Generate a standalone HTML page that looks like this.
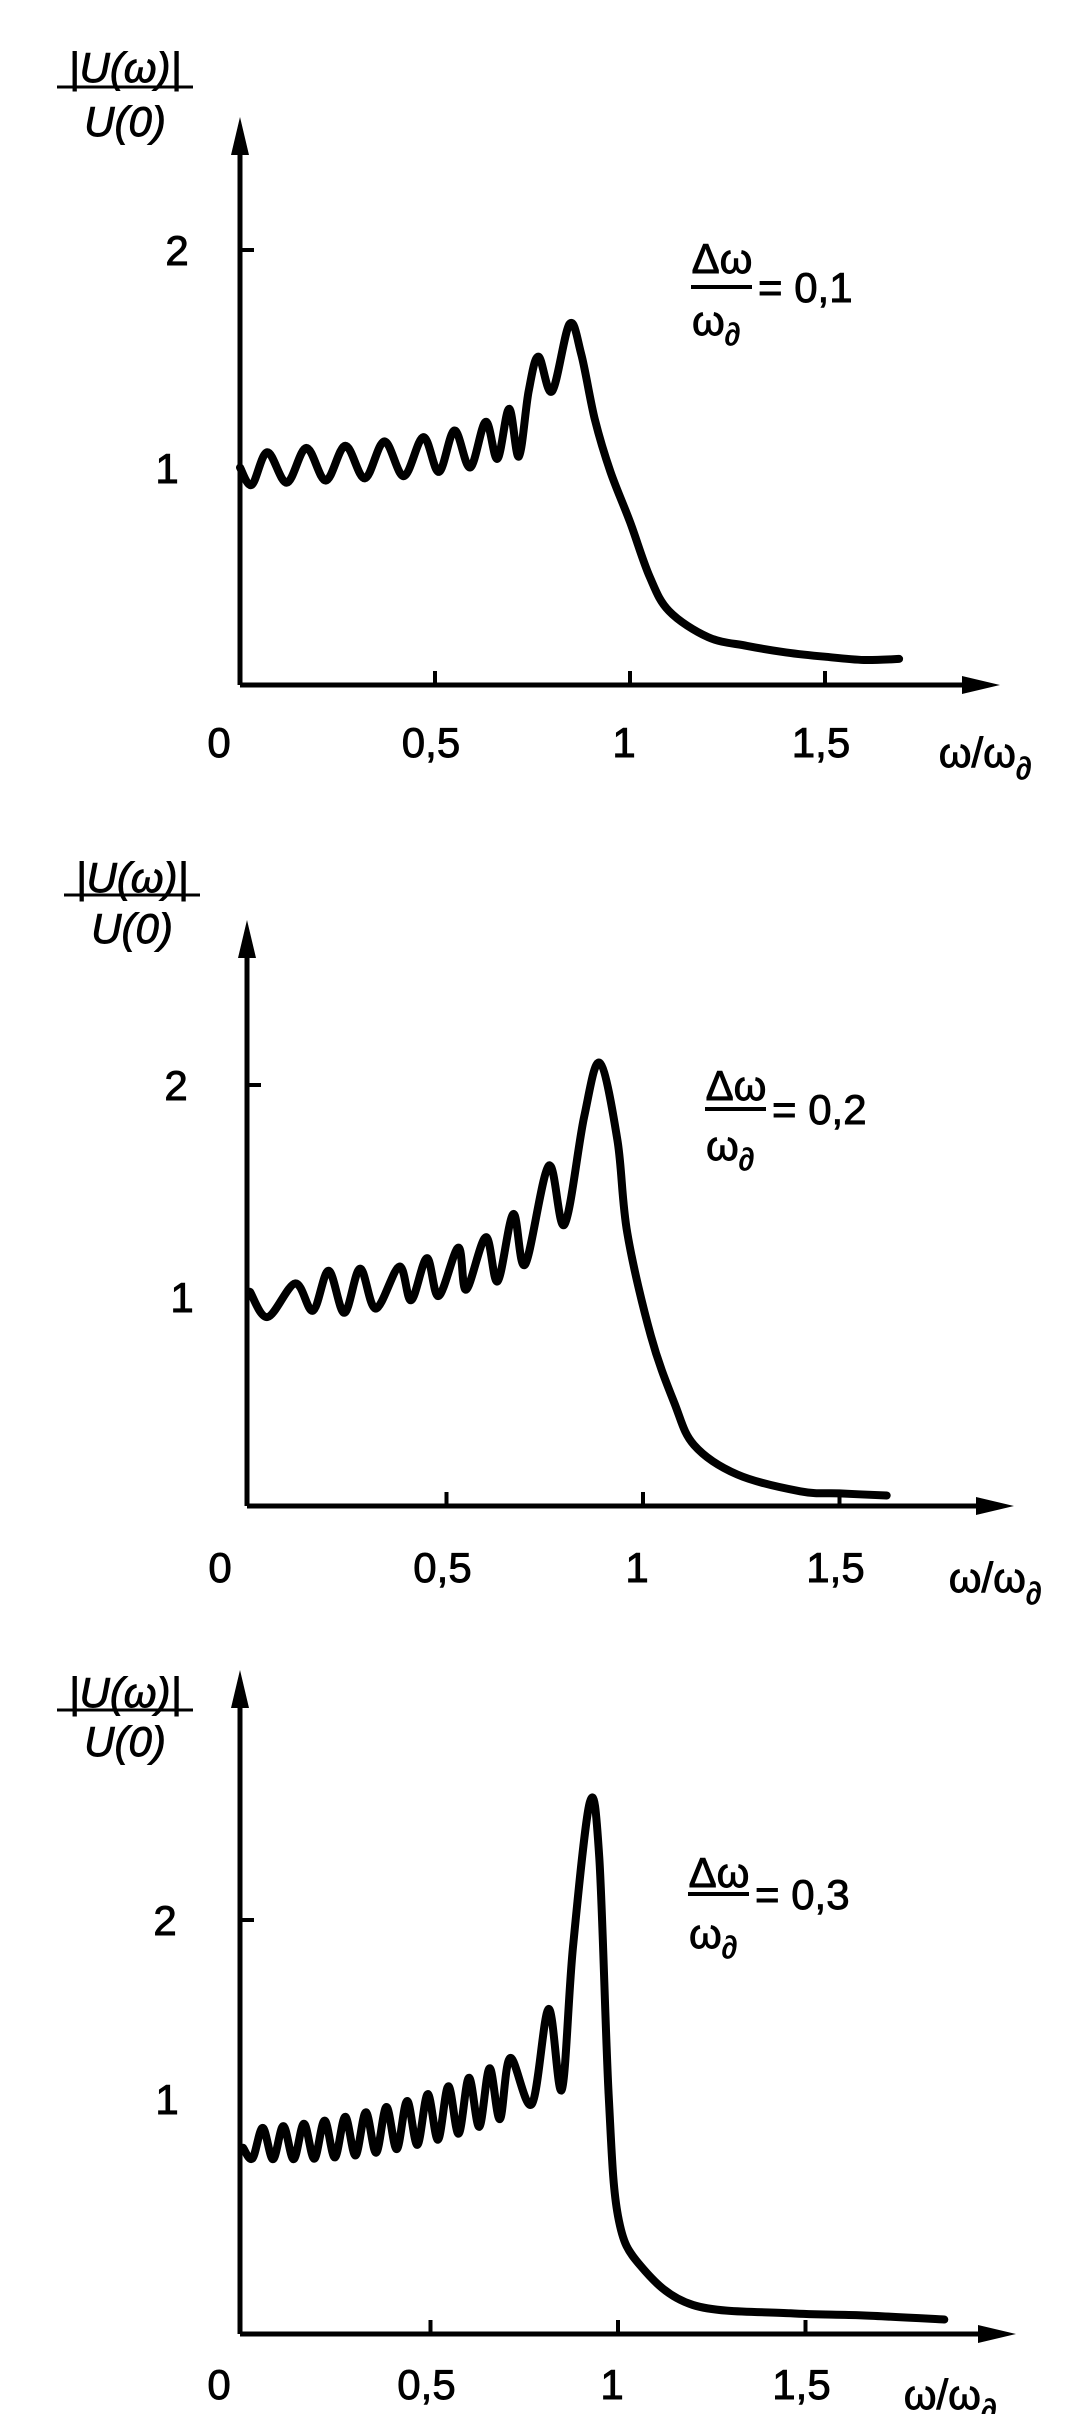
<!DOCTYPE html>
<html><head><meta charset="utf-8">
<style>
html,body{margin:0;padding:0;background:#fff;}
svg{display:block;}
text{font-family:"Liberation Sans",sans-serif;fill:#000;stroke:#000;stroke-width:0.9;}
</style></head>
<body>
<svg id="s" width="1077" height="2414" viewBox="0 0 1077 2414" xmlns="http://www.w3.org/2000/svg">
<g id="g"></g>
</svg>
<script>
var NS="http://www.w3.org/2000/svg",G=document.getElementById('g');
function el(t,a,txt){var e=document.createElementNS(NS,t);for(var k in a)e.setAttribute(k,a[k]);if(txt!==undefined)e.textContent=txt;G.appendChild(e);return e;}
function cr(pts){var d="M"+pts[0][0].toFixed(1)+" "+pts[0][1].toFixed(1);
 for(var i=0;i<pts.length-1;i++){var p0=pts[i-1]||pts[i],p1=pts[i],p2=pts[i+1],p3=pts[i+2]||p2;
  var c1=[p1[0]+(p2[0]-p0[0])/6,p1[1]+(p2[1]-p0[1])/6],c2=[p2[0]-(p3[0]-p1[0])/6,p2[1]-(p3[1]-p1[1])/6];
  d+=" C"+c1[0].toFixed(1)+" "+c1[1].toFixed(1)+" "+c2[0].toFixed(1)+" "+c2[1].toFixed(1)+" "+p2[0].toFixed(1)+" "+p2[1].toFixed(1);}
 return d;}
function panel(o){
 var X=function(x){return o.x0+x*o.ux;},Y=function(v){return o.y0-v*o.uy;};
 el('line',{x1:o.ax,y1:o.y0,x2:o.ax,y2:o.top+20,stroke:'#000','stroke-width':5});
 el('polygon',{points:(o.ax-9)+","+(o.top+38)+" "+o.ax+","+o.top+" "+(o.ax+9)+","+(o.top+38),fill:'#000'});
 el('line',{x1:o.ax,y1:o.y0,x2:o.tip-20,y2:o.y0,stroke:'#000','stroke-width':5});
 el('polygon',{points:(o.tip-38)+","+(o.y0-9)+" "+o.tip+","+o.y0+" "+(o.tip-38)+","+(o.y0+9),fill:'#000'});
 [0.5,1,1.5].forEach(function(t){el('line',{x1:X(t),y1:o.y0,x2:X(t),y2:o.y0-14,stroke:'#000','stroke-width':4});});
 el('line',{x1:o.ax,y1:o.y2,x2:o.ax+14,y2:o.y2,stroke:'#000','stroke-width':4});
 var fs=42;
 el('text',{x:o.lx0,y:o.ly+15,'font-size':fs,'text-anchor':'middle'},"0");
 el('text',{x:X(0.5)-4,y:o.ly+15,'font-size':fs,'text-anchor':'middle'},"0,5");
 el('text',{x:X(1)-6,y:o.ly+15,'font-size':fs,'text-anchor':'middle'},"1");
 el('text',{x:X(1.5)-4,y:o.ly+15,'font-size':fs,'text-anchor':'middle'},"1,5");
 var t=el('text',{x:o.wx,y:o.ly+25,'font-size':fs,'text-anchor':'middle'});
 t.innerHTML='ω/ω<tspan font-size="31" font-style="italic" dy="12">∂</tspan>';
 el('text',{x:o.n2x,y:o.y2+15,'font-size':fs,'text-anchor':'middle'},"2");
 el('text',{x:o.n1x,y:o.n1y+15,'font-size':fs,'text-anchor':'middle'},"1");
 el('text',{x:o.ylx,y:o.yl1+15,'font-size':fs,'text-anchor':'middle','font-style':'italic'},"|U(ω)|");
 el('line',{x1:o.ylx-68,y1:o.yll,x2:o.ylx+68,y2:o.yll,stroke:'#000','stroke-width':3});
 el('text',{x:o.ylx,y:o.yl2+15,'font-size':fs,'text-anchor':'middle','font-style':'italic'},"U(0)");
 el('text',{x:o.ax2,y:o.a1+15,'font-size':fs,'text-anchor':'middle'},"Δω");
 el('line',{x1:o.ax2-31,y1:o.al,x2:o.ax2+30,y2:o.al,stroke:'#000','stroke-width':4});
 var t2=el('text',{x:o.ax2-6,y:o.a2+15,'font-size':fs,'text-anchor':'middle'});
 t2.innerHTML='ω<tspan font-size="31" font-style="italic" dy="10">∂</tspan>';
 el('text',{x:o.ax2+36,y:o.al+15,'font-size':fs},"= "+o.val);
 var pts=o.pts.map(function(p){return [X(p[0]),Y(p[1])];});
 el('path',{d:cr(pts),fill:'none',stroke:'#000','stroke-width':8,'stroke-linejoin':'round','stroke-linecap':'round'});
}
panel({x0:240,ux:390,y0:685,uy:217.5,ax:240,top:117,tip:1000,y2:250,
 lx0:219,ly:742,wx:985,n2x:177,n1x:167,n1y:468,ylx:125,yl1:67,yll:87,yl2:121,
 ax2:722,a1:258,al:287,a2:320,val:"0,1",
 pts:[[0,1.0],[0.03,0.92],[0.07,1.07],[0.12,0.93],[0.17,1.09],[0.22,0.94],[0.27,1.10],[0.32,0.95],[0.37,1.12],[0.42,0.96],[0.47,1.14],[0.51,0.98],[0.55,1.17],[0.59,1.0],[0.63,1.21],[0.66,1.04],[0.69,1.27],[0.715,1.05],[0.74,1.35],[0.765,1.51],[0.80,1.35],[0.845,1.66],[0.875,1.52],[0.91,1.22],[0.95,0.98],[1.0,0.75],[1.05,0.5],[1.1,0.34],[1.2,0.22],[1.3,0.18],[1.4,0.15],[1.5,0.13],[1.6,0.115],[1.69,0.12]]});
panel({x0:250,ux:393,y0:1506,uy:210,ax:247,top:920,tip:1014,y2:1085,
 lx0:220,ly:1567,wx:995,n2x:176,n1x:182,n1y:1297,ylx:132,yl1:877,yll:895,yl2:928,
 ax2:736,a1:1085,al:1109,a2:1145,val:"0,2",
 pts:[[0,1.02],[0.045,0.90],[0.115,1.06],[0.16,0.93],[0.20,1.12],[0.24,0.92],[0.28,1.13],[0.32,0.94],[0.38,1.14],[0.41,0.98],[0.45,1.18],[0.48,1.0],[0.53,1.23],[0.55,1.03],[0.60,1.28],[0.63,1.07],[0.67,1.39],[0.70,1.15],[0.76,1.62],[0.80,1.34],[0.85,1.85],[0.89,2.11],[0.935,1.74],[0.96,1.30],[1.02,0.81],[1.08,0.49],[1.13,0.29],[1.24,0.15],[1.4,0.07],[1.5,0.06],[1.62,0.05]]});
(function(){
 var pts=[[0,0.9]];var n=0;
 for(var x=0.025;x<0.74;x+=0.0275){
  var mean=0.92+0.3*Math.pow(x/0.74,2.2);var amp=0.07+0.07*(x/0.74);
  pts.push([x,(n%2?mean+amp:mean-amp)]);n++;}
 pts=pts.concat([[0.77,1.11],[0.815,1.57],[0.85,1.18],[0.88,1.87],[0.925,2.57],[0.95,2.3],[0.975,1.16],[1.0,0.57],[1.06,0.33],[1.2,0.14],[1.46,0.10],[1.65,0.09],[1.87,0.07]]);
 panel({x0:243,ux:375,y0:2334,uy:207,ax:240,top:1670,tip:1016,y2:1920,
 lx0:219,ly:2384,wx:950,n2x:165,n1x:167,n1y:2099,ylx:125,yl1:1692,yll:1710,yl2:1741,
 ax2:719,a1:1872,al:1894,a2:1933,val:"0,3",pts:pts});
})();
</script>
</body></html>
